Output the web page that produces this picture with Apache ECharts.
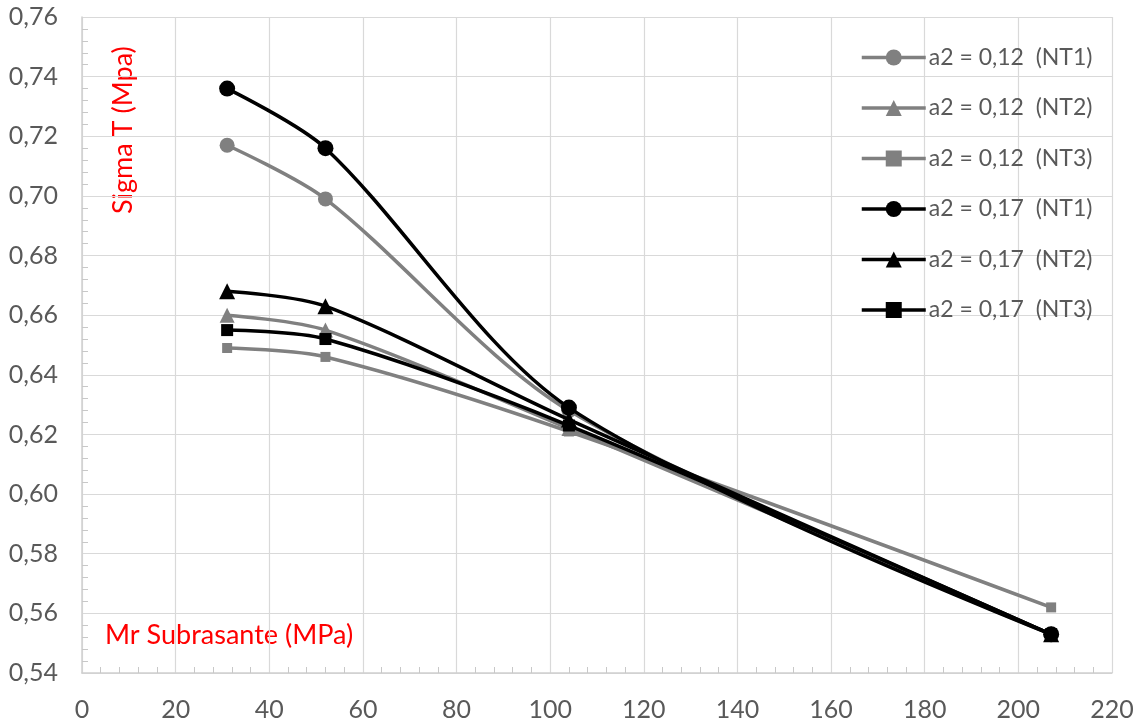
<!DOCTYPE html>
<html><head><meta charset="utf-8">
<script src="https://cdn.jsdelivr.net/npm/echarts@6/dist/echarts.min.js"></script>
<style>html,body{margin:0;padding:0;background:#fff}#c{width:1143px;height:723px}</style>
</head><body><div id="c"></div>
<script>
const mrValues = [31, 52, 104, 207];
const seriesNames = ['a2 = 0,12  (NT1)','a2 = 0,12  (NT2)','a2 = 0,12  (NT3)','a2 = 0,17  (NT1)','a2 = 0,17  (NT2)','a2 = 0,17  (NT3)'];
const a012_NT1 = [0.717, 0.699, 0.628, 0.553];
const a012_NT2 = [0.660, 0.655, 0.622, 0.553];
const a012_NT3 = [0.649, 0.646, 0.621, 0.562];
const a017_NT1 = [0.736, 0.716, 0.629, 0.553];
const a017_NT2 = [0.668, 0.663, 0.625, 0.553];
const a017_NT3 = [0.655, 0.652, 0.623, 0.553];
const xTitle = 'Mr Subrasante (MPa)';
const yTitle = 'Sigma T (Mpa)';

const allData = [a012_NT1, a012_NT2, a012_NT3, a017_NT1, a017_NT2, a017_NT3];
const colors = ['#808080','#808080','#808080','#000000','#000000','#000000'];
const symbols = ['circle','triangle','rect','circle','triangle','rect'];
const sizes = [15, 15, 10, 16, 16, 12];
const FONT = 'Lato';

const chart = echarts.init(document.getElementById('c'));
chart.setOption({
  animation: false,
  textStyle: {fontFamily: FONT},
  grid: {left: 82, top: 17, right: 31, bottom: 50, containLabel: false},
  legend: {
    orient: 'vertical', left: 855, top: 41, itemWidth: 64, itemHeight: 20, itemGap: 27.5,
    lineStyle: {width: 3.5},
    textStyle: {fontFamily: FONT, fontSize: 23, color: '#595959', padding: [0,0,0,-2]},
    data: seriesNames
  },
  xAxis: {
    type: 'value', min: 0, max: 220, interval: 20,
    axisLine: {show: true, lineStyle: {color: '#d0d0d0', width: 1.5}},
    axisTick: {show: false, inside: true},
    minorTick: {show: true, splitNumber: 5, length: 6, lineStyle: {color: '#c8c8c8'}},
    splitLine: {show: true, lineStyle: {color: '#d9d9d9', width: 1.2}},
    axisLabel: {fontSize: 25, color: '#595959', margin: 24, fontFamily: FONT}
  },
  yAxis: {
    type: 'value', min: 0.54, max: 0.76, interval: 0.02,
    axisLine: {show: true, lineStyle: {color: '#d0d0d0', width: 1.5}},
    axisTick: {show: false, inside: true},
    minorTick: {show: true, splitNumber: 5, length: 6, lineStyle: {color: '#c8c8c8'}},
    splitLine: {show: true, lineStyle: {color: '#d9d9d9', width: 1.2}},
    axisLabel: {fontSize: 25, color: '#595959', margin: 24, fontFamily: FONT,
      formatter: v => v.toFixed(2).replace('.', ',')}
  },
  graphic: [
    {type: 'text', left: 105, top: 622, style: {text: xTitle, fill: '#ff0000', fontSize: 27, fontFamily: FONT}},
    {type: 'text', x: 110, y: 214, rotation: Math.PI/2, style: {text: yTitle, fill: '#ff0000', fontSize: 27, fontFamily: FONT}}
  ],
  series: allData.map((d, i) => ({
    name: seriesNames[i], type: 'line', smooth: 0.3,
    data: mrValues.map((x, j) => [x, d[j]]),
    symbol: symbols[i], symbolSize: sizes[i],
    lineStyle: {color: colors[i], width: 3.5},
    itemStyle: {color: colors[i]},
    z: i < 3 ? 2 : 3
  }))
});
</script></body></html>
